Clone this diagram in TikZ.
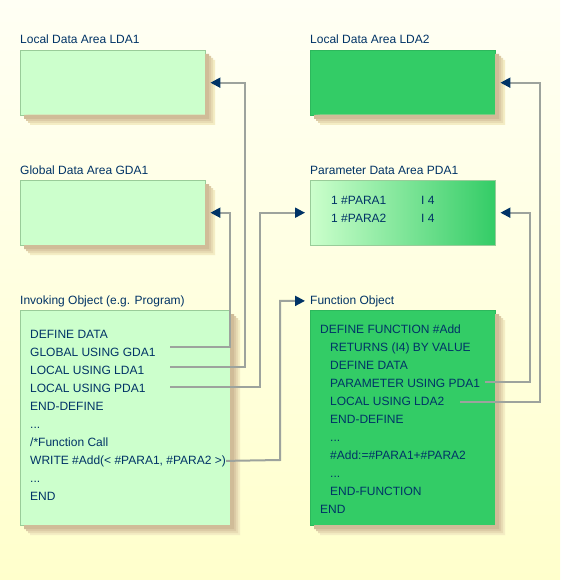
\documentclass[tikz,border=0pt]{standalone}
\usepackage{fontspec}
\setmainfont{Liberation Sans}
\usetikzlibrary{arrows.meta}
\definecolor{navy}{HTML}{003366}
\definecolor{lgreen}{HTML}{CCFFCC}
\definecolor{dgreen}{HTML}{33CC66}
\definecolor{lborder}{HTML}{99CC99}
\definecolor{dborder}{HTML}{2DB85C}
\definecolor{linec}{HTML}{9DA39D}
\definecolor{shadowa}{HTML}{F4EDC4}
\definecolor{shadowb}{HTML}{E8DCB4}
\definecolor{shadowc}{HTML}{DCCBA6}
\definecolor{shadowd}{HTML}{D0BC98}
\definecolor{bgtop}{HTML}{FFFFF4}
\definecolor{bgbot}{HTML}{FFFFCC}

\begin{document}
\begin{tikzpicture}[x=1pt,y=-1pt,
    area/.style={anchor=north west,inner sep=0pt,minimum width=185pt,minimum height=65pt},
    lbox/.style={area,draw=lborder,fill=lgreen},
    dbox/.style={area,draw=dborder,fill=dgreen},
    lbl/.style={anchor=base west,inner sep=0pt,text=navy,font=\fontsize{12}{14}\selectfont},
    code/.style={lbl},
    conn/.style={draw=linec,line width=2pt,-{Triangle[length=10pt,width=10pt,color=navy]}}]
    \shade[top color=bgtop,bottom color=bgbot] (0,0) rectangle (560,580);
    \useasboundingbox (0,0) rectangle (560,580);

    % data areas
    \node[lbox] (lda1) at (20,50) {};
    \node[lbox] (gda1) at (20,180) {};
    \node[dbox] (lda2) at (310,50) {};
    \node[area,draw=lborder,left color=lgreen,right color=dgreen] (pda1) at (310,180) {};

    % objects
    \node[lbox,minimum width=210pt,minimum height=215pt] (inv) at (20,310) {};
    \node[dbox,minimum height=215pt] (fun) at (310,310) {};

    % shadows
    \foreach \xa/\ya/\xb/\yb in {20/50/205/115,20/180/205/245,310/50/495/115,20/310/230/525,310/310/495/525}
    {
        \fill[shadowa] (\xb,\ya+10) -- (\xb+10,\ya+10) -- (\xb+10,\yb+10) -- (\xa+10,\yb+10) -- (\xa+10,\yb) -- (\xb,\yb) -- cycle;
        \fill[shadowb] (\xb,\ya+8) -- (\xb+8,\ya+8) -- (\xb+8,\yb+8) -- (\xa+8,\yb+8) -- (\xa+8,\yb) -- (\xb,\yb) -- cycle;
        \fill[shadowc] (\xb,\ya+6) -- (\xb+6,\ya+6) -- (\xb+6,\yb+6) -- (\xa+6,\yb+6) -- (\xa+6,\yb) -- (\xb,\yb) -- cycle;
        \fill[shadowd] (\xb,\ya+4) -- (\xb+4,\ya+4) -- (\xb+4,\yb+4) -- (\xa+4,\yb+4) -- (\xa+4,\yb) -- (\xb,\yb) -- cycle;
    }

    \node[lbl] (lda1lbl) at (20,44) {Local Data Area LDA1};
    \node[lbl] (gda1lbl) at (20,174) {Global Data Area GDA1};
    \node[lbl] (lda2lbl) at (310,44) {Local Data Area LDA2};
    \node[lbl] (pda1lbl) at (310,174) {Parameter Data Area PDA1};
    \node[code] (p1) at (331,204) {1 \#PARA1};
    \node[code] (p1t) at (421,204) {I 4};
    \node[code] (p2) at (331,222) {1 \#PARA2};
    \node[code] (p2t) at (421,222) {I 4};

    \node[lbl] (invlbl) at (20,304) {Invoking Object (e.g. Program)};
    \node[lbl] (funlbl) at (310,304) {Function Object};

    \node[code] (inv1) at (30,338) {DEFINE DATA};
    \node[code] (inv2) at (30,356) {GLOBAL USING GDA1};
    \node[code] (inv3) at (30,374) {LOCAL USING LDA1};
    \node[code] (inv4) at (30,392) {LOCAL USING PDA1};
    \node[code] (inv5) at (30,410) {END-DEFINE};
    \node[code] (inv6) at (30,428) {...};
    \node[code] (inv7) at (30,446) {/*Function Call};
    \node[code] (inv8) at (30,464) {WRITE \#Add(< \#PARA1, \#PARA2 >)};
    \node[code] (inv9) at (30,482) {...};
    \node[code] (inv10) at (30,500) {END};

    \node[code] (fun1) at (320,333) {DEFINE FUNCTION \#Add};
    \node[code] (fun2) at (330,351) {RETURNS (I4) BY VALUE};
    \node[code] (fun3) at (330,369) {DEFINE DATA};
    \node[code] (fun4) at (330,387) {PARAMETER USING PDA1};
    \node[code] (fun5) at (330,405) {LOCAL USING LDA2};
    \node[code] (fun6) at (330,423) {END-DEFINE};
    \node[code] (fun7) at (330,441) {...};
    \node[code] (fun8) at (330,459) {\#Add:=\#PARA1+\#PARA2};
    \node[code] (fun9) at (330,477) {...};
    \node[code] (fun10) at (330,495) {END-FUNCTION};
    \node[code] (fun11) at (320,513) {END};

    % connectors
    \coordinate (glob) at (170,347);
    \coordinate (loclda) at (170,367);
    \coordinate (locpda) at (170,387);
    \coordinate (param) at (485,382);
    \coordinate (loclda2) at (460,402);
    \draw[conn] (glob) -- (230,347) |- ([xshift=5pt]gda1.east);
    \draw[conn] (loclda) -- (245,367) |- ([xshift=5pt]lda1.east);
    \draw[conn] (locpda) -- (260,387) |- ([xshift=-5pt]pda1.west);
    \draw[conn] (inv8.east) -- (280,460) |- ([xshift=-5pt]funlbl.west);
    \draw[conn] (param) -- (530,382) |- ([xshift=5pt]pda1.east);
    \draw[conn] (loclda2) -- (540,402) |- ([xshift=5pt]lda2.east);
\end{tikzpicture}
\end{document}
